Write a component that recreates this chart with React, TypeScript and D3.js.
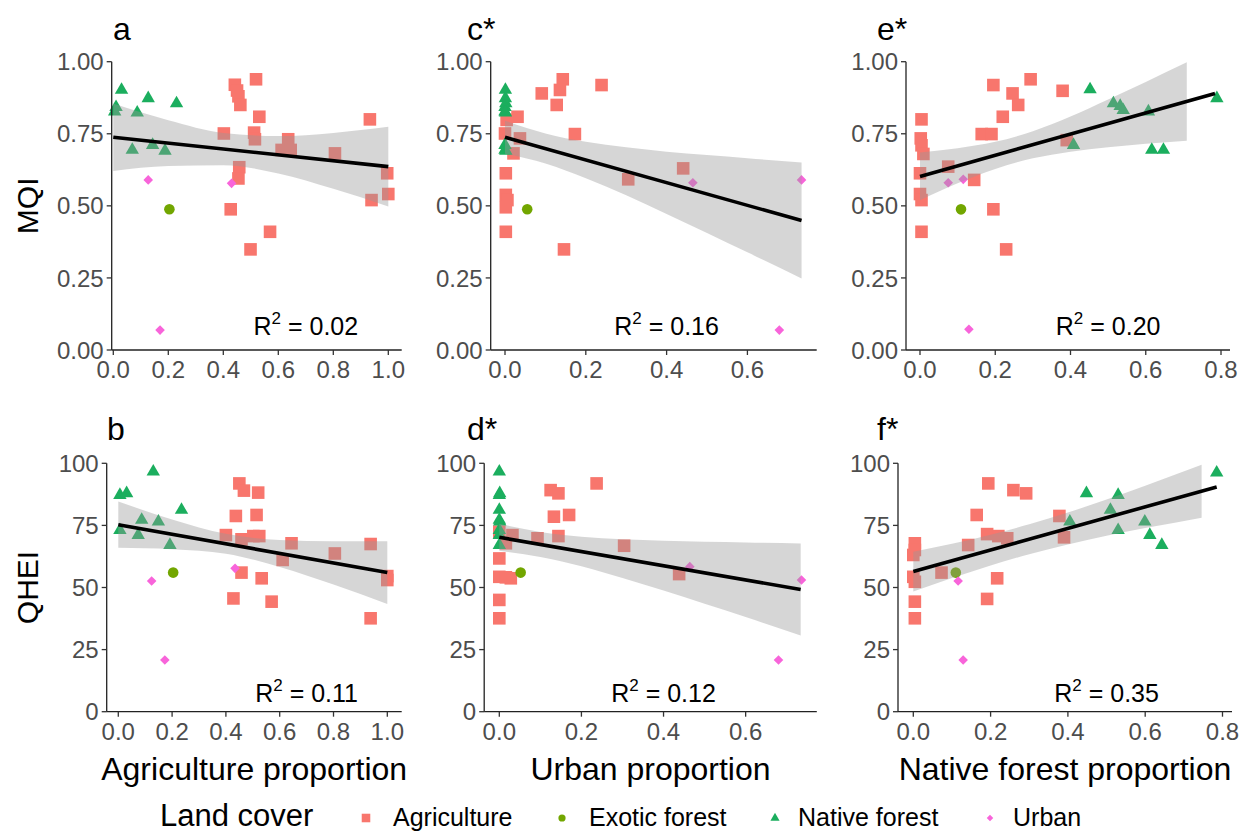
import React from "react";
import * as d3 from "d3";

type Pt = [number, number];

// ---------- legend / categories ----------
const landCovers = ["Agriculture", "Exotic forest", "Native forest", "Urban"];
const coverColors = ["#F8766D", "#72A600", "#1BAE5E", "#F864DA"];
const coverShapes = ["square", "circle", "triangle", "diamond"];

// ---------- axis ticks ----------
const mqiTicks = [0, 0.25, 0.5, 0.75, 1.0];
const qheiTicks = [0, 25, 50, 75, 100];
const agriTicks = [0, 0.2, 0.4, 0.6, 0.8, 1.0];
const urbanTicks = [0, 0.2, 0.4, 0.6];
const nativeTicks = [0, 0.2, 0.4, 0.6, 0.8];

// ---------- panel a: MQI ~ agriculture ----------
const aAgriculture: Pt[] = [[0.519,0.939],[0.442,0.92],[0.45,0.90],[0.455,0.88],[0.462,0.85],[0.531,0.809],[0.402,0.751],[0.512,0.754],[0.515,0.731],[0.636,0.731],[0.612,0.694],[0.645,0.694],[0.458,0.634],[0.455,0.595],[0.806,0.682],[0.933,0.80],[0.996,0.613],[1.0,0.541],[0.939,0.52],[0.427,0.488],[0.57,0.41],[0.499,0.349]];
const aExotic: Pt[] = [[0.204,0.488]];
const aNative: Pt[] = [[0.03,0.902],[0.127,0.873],[0.23,0.855],[0.01,0.842],[0.005,0.827],[0.087,0.823],[0.069,0.694],[0.143,0.711],[0.188,0.691]];
const aUrban: Pt[] = [[0.127,0.59],[0.43,0.578],[0.17,0.069]];
const aFitX = [0, 1.0];
const aFitY = [0.738, 0.636];
const aBandX = [0, 0.2, 0.4, 0.6, 0.8, 1.0];
const aBandUpper = [0.855, 0.797, 0.753, 0.742, 0.753, 0.774];
const aBandLower = [0.621, 0.638, 0.641, 0.612, 0.559, 0.498];

// ---------- panel c: MQI ~ urban ----------
const cAgriculture: Pt[] = [[0.143,0.939],[0.136,0.902],[0.091,0.89],[0.239,0.919],[0.128,0.85],[0.031,0.809],[0.004,0.798],[0.173,0.749],[0.0,0.751],[0.037,0.734],[0.021,0.682],[0.441,0.63],[0.305,0.592],[0.002,0.613],[0.002,0.538],[0.006,0.52],[0.002,0.495],[0.002,0.41],[0.146,0.349]];
const cExotic: Pt[] = [[0.055,0.488]];
const cNative: Pt[] = [[0.001,0.902],[0.001,0.873],[0.002,0.855],[0.0,0.842],[0.0,0.827],[0.001,0.823],[0.0,0.694],[0.0,0.711],[0.002,0.691]];
const cUrban: Pt[] = [[0.465,0.58],[0.734,0.59],[0.679,0.069]];
const cFitX = [0, 0.734];
const cFitY = [0.738, 0.449];
const cBandX = [0, 0.1, 0.2, 0.3, 0.4, 0.5, 0.6, 0.734];
const cBandUpper = [0.795, 0.751, 0.722, 0.703, 0.688, 0.676, 0.665, 0.650];
const cBandLower = [0.681, 0.647, 0.596, 0.537, 0.472, 0.406, 0.339, 0.248];

// ---------- panel e: MQI ~ native forest ----------
const eAgriculture: Pt[] = [[0.195,0.919],[0.294,0.939],[0.379,0.899],[0.246,0.89],[0.261,0.85],[0.22,0.809],[0.164,0.749],[0.19,0.749],[0.004,0.80],[0.002,0.734],[0.004,0.71],[0.009,0.68],[0.075,0.636],[0.39,0.728],[0.0,0.613],[0.144,0.59],[0.0,0.541],[0.004,0.52],[0.195,0.488],[0.004,0.41],[0.229,0.349]];
const eExotic: Pt[] = [[0.109,0.488]];
const eNative: Pt[] = [[0.452,0.904],[0.514,0.855],[0.532,0.846],[0.54,0.832],[0.607,0.827],[0.408,0.711],[0.616,0.694],[0.647,0.694],[0.789,0.873]];
const eUrban: Pt[] = [[0.075,0.58],[0.115,0.592],[0.13,0.072]];
const eFitX = [0, 0.784];
const eFitY = [0.602, 0.89];
const eBandX = [0, 0.1, 0.2, 0.3, 0.4, 0.5, 0.6, 0.709];
const eBandUpper = [0.685, 0.70, 0.722, 0.759, 0.810, 0.869, 0.930, 0.998];
const eBandLower = [0.519, 0.578, 0.628, 0.665, 0.688, 0.703, 0.715, 0.726];

// ---------- panel b: QHEI ~ agriculture ----------
const bAgriculture: Pt[] = [[0.45,91.9],[0.467,89.0],[0.52,88.2],[0.437,78.8],[0.514,79.2],[0.40,71.1],[0.458,69.4],[0.502,70.7],[0.524,70.7],[0.644,67.8],[0.611,61.1],[0.805,63.7],[0.938,67.5],[0.458,56.0],[0.533,53.7],[0.428,45.6],[0.57,44.3],[1.0,54.6],[1.0,53.0],[0.938,37.6]];
const bExotic: Pt[] = [[0.204,56.0]];
const bNative: Pt[] = [[0.13,96.6],[0.006,87.2],[0.031,87.9],[0.235,81.2],[0.087,77.2],[0.149,76.5],[0.006,73.1],[0.074,71.1],[0.192,67.1]];
const bUrban: Pt[] = [[0.124,52.6],[0.434,57.7],[0.173,20.8]];
const bFitX = [0, 1.0];
const bFitY = [75.3, 56.0];
const bBandX = [0, 0.2, 0.4, 0.6, 0.8, 1.0];
const bBandUpper = [84.6, 77.4, 71.6, 69.1, 68.6, 68.6];
const bBandLower = [66.0, 65.4, 63.6, 58.3, 51.2, 43.4];

// ---------- panel d: QHEI ~ urban ----------
const dAgriculture: Pt[] = [[0.237,91.9],[0.125,89.2],[0.144,87.9],[0.133,78.5],[0.17,79.2],[0.0,72.5],[0.032,71.1],[0.093,69.8],[0.144,70.7],[0.016,67.8],[0.304,66.8],[0.438,55.4],[0.0,61.7],[0.0,54.3],[0.028,53.7],[0.016,54.1],[0.0,45.0],[0.0,37.6]];
const dExotic: Pt[] = [[0.052,56.0]];
const dNative: Pt[] = [[0.0,96.6],[0.0,87.2],[0.001,87.9],[0.0,81.2],[0.0,77.2],[0.001,76.5],[0.0,73.1],[0.0,71.1],[0.0,67.1]];
const dUrban: Pt[] = [[0.464,58.4],[0.736,53.0],[0.68,20.8]];
const dFitX = [0, 0.734];
const dFitY = [70.2, 49.2];
const dBandX = [0, 0.1, 0.2, 0.3, 0.4, 0.5, 0.6, 0.734];
const dBandUpper = [75.65, 72.38, 70.47, 69.4, 68.84, 68.38, 68.11, 67.69];
const dBandLower = [64.75, 62.32, 58.53, 53.8, 48.76, 43.42, 38.09, 30.71];

// ---------- panel f: QHEI ~ native forest ----------
const fAgriculture: Pt[] = [[0.194,91.9],[0.259,89.2],[0.292,87.9],[0.164,79.2],[0.378,78.8],[0.191,71.5],[0.22,70.7],[0.243,69.8],[0.142,67.1],[0.39,70.2],[0.004,67.8],[0.004,65.1],[0.0,63.1],[0.073,56.0],[0.0,54.3],[0.004,52.3],[0.217,53.7],[0.191,45.4],[0.004,44.3],[0.004,37.6]];
const fExotic: Pt[] = [[0.11,56.0]];
const fNative: Pt[] = [[0.448,87.9],[0.53,87.2],[0.51,81.2],[0.405,76.5],[0.599,76.5],[0.53,73.1],[0.612,71.1],[0.643,67.1],[0.785,96.2]];
const fUrban: Pt[] = [[0.116,52.6],[0.129,20.8]];
const fFitX = [0, 0.785];
const fFitY = [56.4, 90.5];
const fBandX = [0, 0.1, 0.2, 0.3, 0.4, 0.5, 0.6, 0.746];
const fBandUpper = [64.4, 67.64, 71.27, 75.43, 80.17, 85.4, 90.96, 99.43];
const fBandLower = [48.4, 53.84, 58.89, 63.41, 67.35, 70.8, 73.92, 78.13];

// ---------- layout ----------
const FONT = "'Liberation Sans', Arial, Helvetica, sans-serif";
const W = 1247, H = 833;
const rows = [
  { top: 61.7, bottom: 350, domain: [0, 1], ticks: mqiTicks, fmt: d3.format(".2f"), title: "MQI", r2Value: 0.052 },
  { top: 463.3, bottom: 711.7, domain: [0, 100], ticks: qheiTicks, fmt: d3.format("d"), title: "QHEI", r2Value: 4.0 },
];

const panels = [
  { tag: "a", tagX: 113, row: 0, left: 111.7, right: 401.7, xDomain: [-0.0058, 1.0487], xTicks: agriTicks, pts: [aAgriculture, aExotic, aNative, aUrban], fitX: aFitX, fitY: aFitY, bandX: aBandX, up: aBandUpper, lo: aBandLower, r2: "0.02", r2X: 0.70 },
  { tag: "c*", tagX: 467, row: 0, left: 490.7, right: 816.7, xDomain: [-0.0354, 0.7715], xTicks: urbanTicks, pts: [cAgriculture, cExotic, cNative, cUrban], fitX: cFitX, fitY: cFitY, bandX: cBandX, up: cBandUpper, lo: cBandLower, r2: "0.16", r2X: 0.40 },
  { tag: "e*", tagX: 877, row: 0, left: 906, right: 1230, xDomain: [-0.0372, 0.8239], xTicks: nativeTicks, pts: [eAgriculture, eExotic, eNative, eUrban], fitX: eFitX, fitY: eFitY, bandX: eBandX, up: eBandUpper, lo: eBandLower, r2: "0.20", r2X: 0.50 },
  { tag: "b", tagX: 107, row: 1, left: 106.7, right: 401.7, xDomain: [-0.0431, 1.0535], xTicks: agriTicks, pts: [bAgriculture, bExotic, bNative, bUrban], fitX: bFitX, fitY: bFitY, bandX: bBandX, up: bBandUpper, lo: bBandLower, r2: "0.11", r2X: 0.70, xTitle: "Agriculture proportion" },
  { tag: "d*", tagX: 467, row: 1, left: 484.2, right: 816.8, xDomain: [-0.0368, 0.7733], xTicks: urbanTicks, pts: [dAgriculture, dExotic, dNative, dUrban], fitX: dFitX, fitY: dFitY, bandX: dBandX, up: dBandUpper, lo: dBandLower, r2: "0.12", r2X: 0.40, xTitle: "Urban proportion" },
  { tag: "f*", tagX: 877, row: 1, left: 898, right: 1232, xDomain: [-0.0396, 0.8246], xTicks: nativeTicks, pts: [fAgriculture, fExotic, fNative, fUrban], fitX: fFitX, fitY: fFitY, bandX: fBandX, up: fBandUpper, lo: fBandLower, r2: "0.35", r2X: 0.50, xTitle: "Native forest proportion" },
];

function markerPath(shape: string, cx: number, cy: number, k: number): string {
  if (shape === "square") {
    const s = 12.6 * k / 2;
    return `M${cx - s},${cy - s}H${cx + s}V${cy + s}H${cx - s}Z`;
  }
  if (shape === "circle") {
    const r = 5.3 * k;
    return `M${cx - r},${cy}A${r},${r} 0 1,0 ${cx + r},${cy}A${r},${r} 0 1,0 ${cx - r},${cy}Z`;
  }
  if (shape === "triangle") {
    const s = 13.4 * k;
    const h = (s * Math.sqrt(3)) / 2;
    return `M${cx},${cy - (2 * h) / 3}L${cx + s / 2},${cy + h / 3}L${cx - s / 2},${cy + h / 3}Z`;
  }
  const d = 4.8 * k;
  return `M${cx},${cy - d}L${cx + d},${cy}L${cx},${cy + d}L${cx - d},${cy}Z`;
}

function Panel({ p }: { p: (typeof panels)[number] }) {
  const row = rows[p.row];
  const x = d3.scaleLinear().domain(p.xDomain).range([p.left, p.right]);
  const y = d3.scaleLinear().domain(row.domain).range([row.bottom, row.top]);
  const fmtX = d3.format(".1f");

  const band = d3
    .area<number>()
    .x((_, i) => x(p.bandX[i]))
    .y0((_, i) => y(p.lo[i]))
    .y1((_, i) => y(p.up[i]))
    .curve(d3.curveMonotoneX)(p.bandX);
  const line = d3
    .line<number>()
    .x((_, i) => x(p.fitX[i]))
    .y((_, i) => y(p.fitY[i]))(p.fitX);

  const tickLen = 5;
  return (
    <g>
      {p.pts.map((arr, ci) =>
        arr.map((pt, j) => (
          <path key={`${ci}-${j}`} d={markerPath(coverShapes[ci], x(pt[0]), y(pt[1]), 1)} fill={coverColors[ci]} />
        ))
      )}
      <path d={band || ""} fill="#999999" fillOpacity={0.4} />
      <path d={line || ""} fill="none" stroke="#000" strokeWidth={3.6} />
      <line x1={p.left} x2={p.left} y1={row.top} y2={row.bottom} stroke="#222" strokeWidth={1.3} />
      <line x1={p.left} x2={p.right} y1={row.bottom} y2={row.bottom} stroke="#222" strokeWidth={1.3} />
      {row.ticks.map((t) => (
        <g key={`y${t}`}>
          <line x1={p.left - tickLen} x2={p.left} y1={y(t)} y2={y(t)} stroke="#333" strokeWidth={1.3} />
          <text x={p.left - tickLen - 3} y={y(t)} dy="0.36em" textAnchor="end" fontSize={24} fill="#4D4D4D" fontFamily={FONT}>
            {row.fmt(t)}
          </text>
        </g>
      ))}
      {p.xTicks.map((t) => (
        <g key={`x${t}`}>
          <line x1={x(t)} x2={x(t)} y1={row.bottom} y2={row.bottom + tickLen} stroke="#333" strokeWidth={1.3} />
          <text x={x(t)} y={row.bottom + 28} textAnchor="middle" fontSize={24} fill="#4D4D4D" fontFamily={FONT}>
            {fmtX(t)}
          </text>
        </g>
      ))}
      <text x={x(p.r2X)} y={y(row.r2Value)} textAnchor="middle" fontSize={25} fill="#000" fontFamily={FONT}>
        R<tspan dy={-11} fontSize={17}>2</tspan>
        <tspan dy={11}>{` = ${p.r2}`}</tspan>
      </text>
      <text x={p.tagX} y={row.top - (p.row === 0 ? 21.7 : 23.3)} fontSize={32} fill="#000" fontFamily={FONT}>
        {p.tag}
      </text>
      {p.xTitle && (
        <text x={(p.left + p.right) / 2} y={780} textAnchor="middle" fontSize={32} fill="#000" fontFamily={FONT}>
          {p.xTitle}
        </text>
      )}
    </g>
  );
}

function Legend() {
  const keyX = [366, 562, 775, 990];
  const textX = [393, 589, 798, 1013];
  const cy = 818;
  return (
    <g>
      <text x={160} y={826} fontSize={31} fill="#000" fontFamily={FONT}>
        Land cover
      </text>
      {landCovers.map((lc, i) => (
        <g key={lc}>
          <path d={markerPath(coverShapes[i], keyX[i], cy, 0.68)} fill={coverColors[i]} />
          <text x={textX[i]} y={826} fontSize={25} fill="#000" fontFamily={FONT}>
            {lc}
          </text>
        </g>
      ))}
    </g>
  );
}

export default function App() {
  return (
    <div style={{ position: "absolute", left: 0, top: 0, width: W, height: H, background: "#fff" }}>
      <svg width={W} height={H} viewBox={`0 0 ${W} ${H}`} style={{ display: "block" }}>
        <rect width={W} height={H} fill="#fff" />
        {rows.map((r) => (
          <text
            key={r.title}
            transform={`translate(${38},${(r.top + r.bottom) / 2}) rotate(-90)`}
            textAnchor="middle"
            fontSize={30}
            fill="#000"
            fontFamily={FONT}
          >
            {r.title}
          </text>
        ))}
        {panels.map((p) => (
          <Panel key={p.tag} p={p} />
        ))}
        <Legend />
      </svg>
    </div>
  );
}
